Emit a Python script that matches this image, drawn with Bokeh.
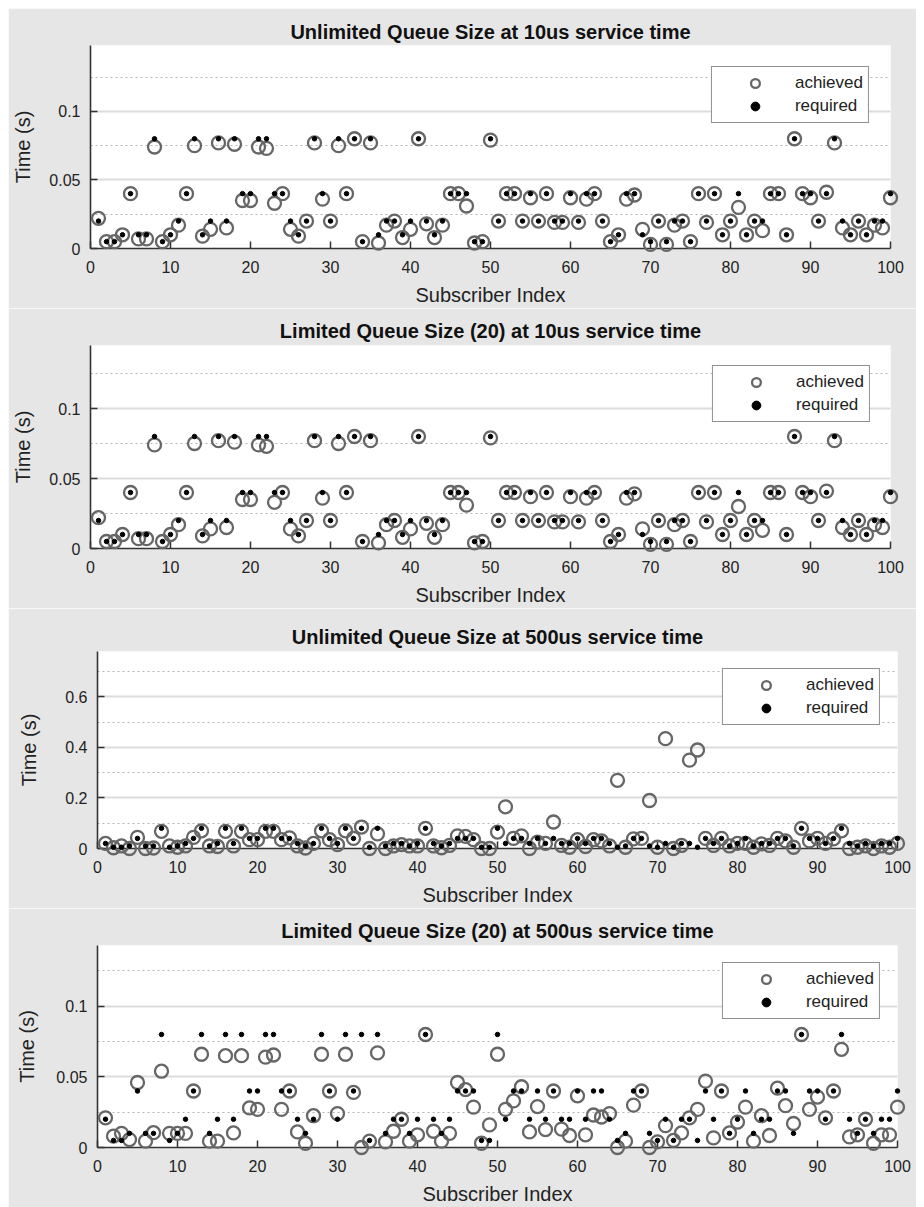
from bokeh.plotting import figure
from bokeh.models import (SingleIntervalTicker, CustomJSTickFormatter, Legend,
                          LegendItem, Range1d)
from bokeh.embed import file_html
from bokeh.resources import INLINE

subscriber = list(range(1, 101))

required = [
    0.02, 0.005, 0.005, 0.01, 0.04, 0.01, 0.01, 0.08, 0.005, 0.01,
    0.02, 0.04, 0.08, 0.01, 0.02, 0.08, 0.02, 0.08, 0.04, 0.04,
    0.08, 0.08, 0.04, 0.04, 0.02, 0.01, 0.02, 0.08, 0.04, 0.02,
    0.08, 0.04, 0.08, 0.005, 0.08, 0.01, 0.02, 0.02, 0.01, 0.02,
    0.08, 0.02, 0.01, 0.02, 0.04, 0.04, 0.04, 0.005, 0.005, 0.08,
    0.02, 0.04, 0.04, 0.02, 0.04, 0.02, 0.04, 0.02, 0.02, 0.04,
    0.02, 0.04, 0.04, 0.02, 0.005, 0.01, 0.04, 0.04, 0.01, 0.005,
    0.02, 0.005, 0.02, 0.02, 0.005, 0.04, 0.02, 0.04, 0.01, 0.02,
    0.04, 0.01, 0.02, 0.02, 0.04, 0.04, 0.01, 0.08, 0.04, 0.04,
    0.02, 0.04, 0.08, 0.02, 0.01, 0.02, 0.01, 0.02, 0.02, 0.04,
]

achieved_unlimited_10us = [
    0.022, 0.005, 0.005, 0.01, 0.04, 0.007, 0.007, 0.074, 0.005, 0.01,
    0.017, 0.04, 0.075, 0.009, 0.014, 0.077, 0.015, 0.076, 0.035, 0.035,
    0.074, 0.073, 0.033, 0.04, 0.014, 0.009, 0.02, 0.077, 0.036, 0.02,
    0.075, 0.04, 0.08, 0.005, 0.077, 0.004, 0.017, 0.02, 0.008, 0.014,
    0.08, 0.018, 0.008, 0.017, 0.04, 0.04, 0.031, 0.004, 0.005, 0.079,
    0.02, 0.04, 0.04, 0.02, 0.037, 0.02, 0.04, 0.019, 0.019, 0.037,
    0.019, 0.036, 0.04, 0.02, 0.005, 0.01, 0.036, 0.039, 0.014, 0.003,
    0.02, 0.003, 0.017, 0.02, 0.005, 0.04, 0.019, 0.04, 0.01, 0.02,
    0.030, 0.01, 0.02, 0.013, 0.04, 0.04, 0.01, 0.08, 0.04, 0.037,
    0.02, 0.041, 0.077, 0.015, 0.01, 0.02, 0.01, 0.017, 0.015, 0.037,
]

# the limited-queue 10us panel shows the same achieved times
achieved_limited_10us = list(achieved_unlimited_10us)

achieved_unlimited_500us = [
    0.02, 0.003, 0.01, 0.0, 0.044, 0.0, 0.002, 0.068, 0.01, 0.005,
    0.01, 0.044, 0.07, 0.01, 0.008, 0.068, 0.01, 0.068, 0.035, 0.035,
    0.068, 0.068, 0.035, 0.042, 0.01, 0.002, 0.02, 0.07, 0.035, 0.015,
    0.07, 0.04, 0.085, 0.0, 0.058, 0.0, 0.01, 0.015, 0.01, 0.01,
    0.08, 0.01, 0.003, 0.012, 0.05, 0.048, 0.035, 0.0, 0.0, 0.065,
    0.165, 0.04, 0.05, 0.0, 0.025, 0.02, 0.105, 0.012, 0.005, 0.035,
    0.008, 0.035, 0.03, 0.01, 0.27, 0.005, 0.038, 0.04, 0.19, 0.005,
    0.435, 0.0, 0.012, 0.35, 0.39, 0.04, 0.012, 0.04, 0.01, 0.02,
    0.02, 0.005, 0.018, 0.012, 0.04, 0.03, 0.005, 0.08, 0.03, 0.04,
    0.02, 0.038, 0.07, 0.0, 0.005, 0.01, 0.0, 0.01, 0.005, 0.02,
]

achieved_limited_500us = [
    0.021, 0.008, 0.010, 0.0056, 0.046, 0.0045, 0.0105, 0.054, 0.010, 0.010,
    0.010, 0.040, 0.066, 0.0045, 0.0045, 0.065, 0.0103, 0.065, 0.028, 0.027,
    0.064, 0.0655, 0.027, 0.040, 0.011, 0.003, 0.0225, 0.066, 0.040, 0.024,
    0.066, 0.039, 0.000, 0.0045, 0.067, 0.004, 0.0115, 0.020, 0.0045, 0.009,
    0.080, 0.0115, 0.0045, 0.010, 0.046, 0.041, 0.0286, 0.003, 0.016, 0.066,
    0.027, 0.033, 0.043, 0.011, 0.029, 0.0127, 0.040, 0.013, 0.0085, 0.0366,
    0.009, 0.023, 0.0216, 0.024, 0.000, 0.0045, 0.030, 0.040, 0.000, 0.004,
    0.0155, 0.005, 0.0103, 0.021, 0.027, 0.047, 0.0068, 0.040, 0.0103, 0.018,
    0.0286, 0.0045, 0.0225, 0.0085, 0.042, 0.0296, 0.017, 0.080, 0.027, 0.0357,
    0.021, 0.040, 0.0695, 0.0075, 0.009, 0.020, 0.003, 0.009, 0.009, 0.0286,
]

titles = [
    "Unlimited Queue Size at 10us service time",
    "Limited Queue Size (20) at 10us service time",
    "Unlimited Queue Size at 500us service time",
    "Limited Queue Size (20) at 500us service time",
]

FONT = "Liberation Sans"
BG = "#e6e6e6"
AX = "#333333"


def make_panel(title, achieved, ymax, interval, height, b_top, b_bottom,
               b_left, b_right, ylab_standoff, title_standoff, leg_margin,
               outer_margin):
    p = figure(width=908, height=height, output_backend="svg",
               toolbar_location=None, x_range=Range1d(0, 100),
               y_range=Range1d(0, ymax), min_border_top=b_top,
               min_border_bottom=b_bottom, min_border_left=b_left,
               min_border_right=b_right, margin=outer_margin)
    p.background_fill_color = "white"
    p.border_fill_color = BG
    p.outline_line_color = None

    p.title.text = title
    p.title.text_font = FONT
    p.title.text_font_size = "20px"
    p.title.text_font_style = "bold"
    p.title.text_color = "#111111"
    p.title.align = "center"
    p.title.standoff = title_standoff

    p.xaxis.ticker = SingleIntervalTicker(interval=10, num_minor_ticks=0)
    p.yaxis.ticker = SingleIntervalTicker(interval=interval, num_minor_ticks=2)
    p.yaxis.formatter = CustomJSTickFormatter(
        code="return String(Number(tick.toFixed(3)));")

    for ax in (p.xaxis, p.yaxis):
        ax.axis_line_color = AX
        ax.axis_line_width = 1.6
        ax.major_tick_line_color = AX
        ax.major_tick_line_width = 1.5
        ax.major_tick_in = 7
        ax.major_tick_out = 0
        ax.minor_tick_line_color = None
        ax.major_label_text_font = FONT
        ax.major_label_text_font_size = "16px"
        ax.major_label_text_color = "#222222"
        ax.axis_label_text_font = FONT
        ax.axis_label_text_font_size = "20px"
        ax.axis_label_text_font_style = "normal"
        ax.axis_label_text_color = "#222222"

    p.xaxis.axis_label = "Subscriber Index"
    p.xaxis.major_label_standoff = 12
    p.xaxis.axis_label_standoff = 8
    p.yaxis.axis_label = "Time (s)"
    p.yaxis.major_label_standoff = 6
    p.yaxis.axis_label_standoff = ylab_standoff

    p.xgrid.grid_line_color = None
    p.ygrid.grid_line_color = "#dcdcdc"
    p.ygrid.grid_line_width = 2
    p.ygrid.minor_grid_line_color = "#b4b4b4"
    p.ygrid.minor_grid_line_width = 1
    p.ygrid.minor_grid_line_dash = "2 3"

    r_ach = p.scatter(subscriber, achieved, marker="circle", size=13,
                      fill_color=None, line_color="#666666", line_width=2.3,
                      level="overlay")
    r_req = p.scatter(subscriber, required, marker="circle", size=4.5,
                      fill_color="black", line_color="black", level="overlay")

    legend = Legend(items=[LegendItem(label="achieved", renderers=[r_ach]),
                           LegendItem(label="required", renderers=[r_req])],
                    location="top_right")
    legend.margin = leg_margin
    legend.padding = 5
    legend.spacing = 1
    legend.glyph_width = 76
    legend.glyph_height = 22
    legend.label_height = 22
    legend.label_standoff = 2
    legend.label_text_font = FONT
    legend.label_text_font_size = "17px"
    legend.label_text_color = "#222222"
    legend.border_line_color = "#222222"
    legend.border_line_width = 1.5
    legend.background_fill_color = "white"
    legend.background_fill_alpha = 1.0
    p.add_layout(legend)
    return p


p1 = make_panel(titles[0], achieved_unlimited_10us, 0.148, 0.05, 300,
                37, 56, 82, 26, 12, 6, 21, (8, 0, 0, 8))
p2 = make_panel(titles[1], achieved_limited_10us, 0.145, 0.05, 300,
                37, 60, 82, 26, 12, 8, 20, (0, 0, 0, 8))
p3 = make_panel(titles[2], achieved_unlimited_500us, 0.78, 0.2, 300,
                43, 58, 89, 19, 22, 7, 17, (0, 0, 0, 8))
p4 = make_panel(titles[3], achieved_limited_500us, 0.143, 0.05, 299,
                37, 59, 89, 19, 15, 7, 17, (0, 0, 0, 8))

open("out.html", "w").write(file_html([p1, p2, p3, p4], INLINE))
